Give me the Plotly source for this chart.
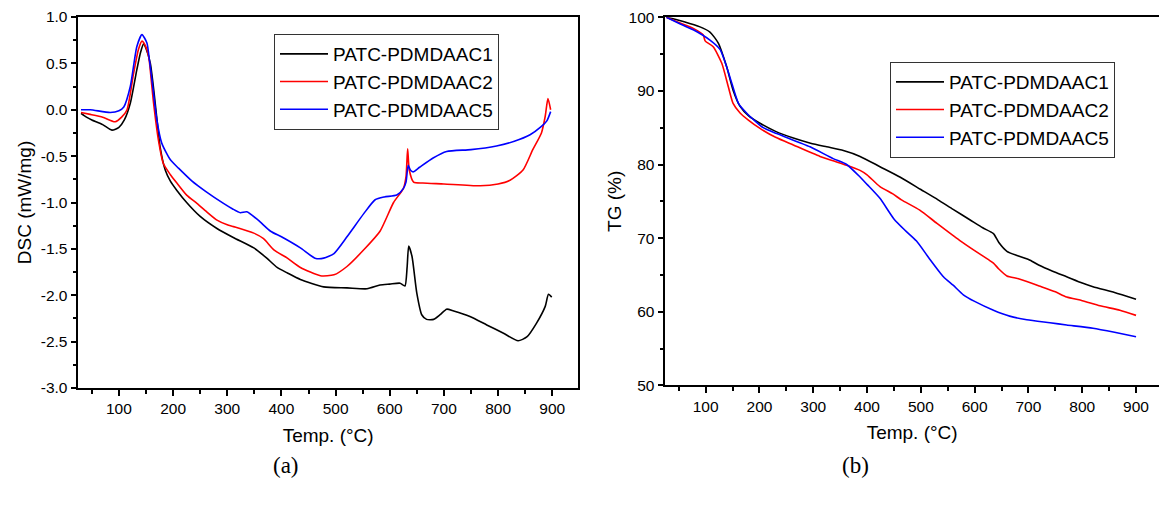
import plotly.graph_objects as go

# ---------------- DSC data (panel a) ----------------
dsc1_t = [30, 40, 50, 70, 87, 100, 110, 121, 133, 140, 145.5, 150, 158, 163, 167, 172, 176, 185.5, 195,
          207, 225, 250, 281, 312, 349, 373, 392, 411, 435, 478, 521, 558, 582, 600, 619, 628, 632,
          635, 641, 650, 659, 668, 681, 693, 705, 718, 748, 779, 810, 837, 853, 871, 887, 893, 899]
dsc1_v = [-0.04, -0.08, -0.11, -0.16, -0.22, -0.19, -0.11, 0.07, 0.43, 0.62, 0.71, 0.66, 0.50, 0.28,
          0.07, -0.20, -0.40, -0.65, -0.77, -0.87, -1.00, -1.15, -1.28, -1.38, -1.49, -1.60,
          -1.70, -1.76, -1.83, -1.91, -1.92, -1.93, -1.89, -1.88, -1.87, -1.90, -1.70, -1.47, -1.58, -1.98,
          -2.21, -2.26, -2.26, -2.21, -2.15, -2.17, -2.23, -2.32, -2.41, -2.49, -2.45, -2.30, -2.12, -1.99, -2.02]

dsc2_t = [30, 47, 70, 93, 105, 115, 127, 136, 142.5, 148, 155, 160, 164, 173, 182, 195, 207, 225, 244,
          262, 281, 300, 312, 349, 367, 386, 411, 435, 472, 497, 521, 552, 582, 607, 625, 630, 633, 636,
          644, 661, 700, 767, 800, 822, 846, 864, 880, 887, 892, 897]
dsc2_v = [-0.03, -0.05, -0.08, -0.13, -0.08, 0.00, 0.39, 0.65, 0.74, 0.70, 0.57, 0.30, 0.07, -0.33,
          -0.58, -0.70, -0.79, -0.92, -1.01, -1.10, -1.19, -1.24, -1.26, -1.33, -1.39, -1.51, -1.60, -1.70,
          -1.79, -1.78, -1.69, -1.51, -1.31, -1.00, -0.85, -0.72, -0.42, -0.65, -0.78, -0.79, -0.80, -0.82,
          -0.80, -0.76, -0.65, -0.43, -0.25, -0.07, 0.12, 0.00]

dsc5_t = [30, 47, 84, 100, 109, 121, 133, 142.5, 151.7, 156, 161, 170, 179, 195, 210, 235, 260, 293, 310,
          324, 336, 357, 380, 400, 435, 462, 478, 497, 521, 552, 573, 590, 613, 625, 630, 634, 638, 643,
          655, 680, 705, 750, 797, 830, 859, 880, 890, 897]
dsc5_v = [0.00, 0.00, -0.03, -0.01, 0.03, 0.25, 0.68, 0.81, 0.72, 0.55, 0.32, -0.11, -0.36, -0.54, -0.63,
          -0.77, -0.88, -1.01, -1.07, -1.11, -1.10, -1.19, -1.31, -1.37, -1.49, -1.60, -1.60, -1.55, -1.37,
          -1.12, -0.97, -0.94, -0.92, -0.85, -0.78, -0.60, -0.65, -0.67, -0.62, -0.52, -0.45, -0.43, -0.39,
          -0.34, -0.27, -0.18, -0.12, -0.02]

# ---------------- TG data (panel b) ----------------
tg1_t = [27, 34, 60, 89.5, 108, 123.5, 139, 151, 164, 180, 201, 230, 263, 295, 325, 356, 387, 424, 461,
         500, 532, 560, 591, 615, 635, 645, 660, 680, 703, 720, 745, 771, 800, 820, 860, 900]
tg1_v = [100, 99.9, 99.4, 98.7, 98.0, 96.5, 93.3, 90.1, 87.9, 86.6, 85.6, 84.5, 83.6, 82.9, 82.4, 81.9,
         81.1, 79.7, 78.3, 76.6, 75.2, 73.9, 72.5, 71.4, 70.6, 69.4, 68.2, 67.6, 67.0, 66.3, 65.5, 64.75,
         63.9, 63.4, 62.6, 61.7]

tg2_t = [27, 50, 77, 95.6, 99, 114, 130, 142, 151, 164, 180, 201, 230, 263, 312.5, 337, 362, 387, 400,
         424, 448, 464, 498, 530, 572, 600, 625, 635, 645, 660, 680, 697, 720, 750, 771, 800, 833, 870, 900]
tg2_v = [100, 99.3, 98.5, 97.6, 96.8, 96.0, 93.75, 90.6, 88.3, 87.0, 86.0, 84.9, 83.7, 82.65, 81.1, 80.5,
         79.9, 79.2, 78.6, 77.0, 76.0, 75.2, 73.8, 72.0, 69.7, 68.3, 67.1, 66.6, 65.8, 64.85, 64.5, 64.1,
         63.5, 62.7, 62.0, 61.5, 60.8, 60.2, 59.5]

tg5_t = [27, 50, 77, 108, 127, 145, 161, 176, 207, 232, 294, 337, 362, 387, 400, 424, 450, 470, 492, 515,
         542, 560, 579, 600, 635, 665, 697, 740, 771, 820, 860, 900]
tg5_v = [100, 99.2, 98.3, 96.9, 95.6, 91.9, 88.3, 87.0, 85.0, 84.2, 82.4, 80.8, 80.0, 78.3, 77.3, 75.4,
         72.6, 71.1, 69.6, 67.3, 64.75, 63.6, 62.3, 61.4, 60.2, 59.4, 58.9, 58.5, 58.2, 57.75, 57.2, 56.6]

names = ["PATC-PDMDAAC1", "PATC-PDMDAAC2", "PATC-PDMDAAC5"]
colors = ["#000000", "#ff0000", "#0000ff"]

dsc_ticks = [1.0, 0.5, 0.0, -0.5, -1.0, -1.5, -2.0, -2.5, -3.0]
dsc_ticktext = ["1.0", "0.5", "0.0", "-0.5", "-1.0", "-1.5", "-2.0", "-2.5", "-3.0"]

W, H = 1159, 506
FONT = "Liberation Sans, Arial, sans-serif"

fig = go.Figure()
for t, v, n, c in zip([dsc1_t, dsc2_t, dsc5_t], [dsc1_v, dsc2_v, dsc5_v], names, colors):
    fig.add_trace(go.Scatter(x=t, y=v, name=n, mode="lines",
                             line=dict(color=c, width=1.6, shape="spline", smoothing=0.6),
                             xaxis="x", yaxis="y", legend="legend"))
for t, v, n, c in zip([tg1_t, tg2_t, tg5_t], [tg1_v, tg2_v, tg5_v], names, colors):
    fig.add_trace(go.Scatter(x=t, y=v, name=n, mode="lines",
                             line=dict(color=c, width=1.6, shape="spline", smoothing=0.6),
                             xaxis="x2", yaxis="y2", legend="legend2"))

axis_common = dict(showline=True, linecolor="black", linewidth=1.5, mirror=True,
                   ticks="outside", ticklen=6, tickwidth=1.5, tickcolor="black",
                   showgrid=False, zeroline=False, automargin=False,
                   tickfont=dict(family=FONT, size=15.5, color="black"))

xminor = dict(ticks="outside", ticklen=4, tickwidth=1.5, tickcolor="black", dtick=50, tick0=0, showgrid=False)

fig.update_layout(
    width=W, height=H,
    margin=dict(l=0, r=0, t=0, b=0),
    paper_bgcolor="white", plot_bgcolor="white",
    showlegend=True,
    xaxis=dict(domain=[78.3 / W, 578 / W], range=[25, 947.5], dtick=100, tick0=0,
               title=dict(text="Temp. (°C)", font=dict(family=FONT, size=19, color="black"), standoff=12),
               minor=xminor, anchor="y", **axis_common),
    yaxis=dict(domain=[1 - 388 / H, 1 - 17 / H], range=[-3, 1], tickvals=dsc_ticks, ticktext=dsc_ticktext,
               title=dict(text="DSC (mW/mg)", font=dict(family=FONT, size=19, color="black"), standoff=4),
               minor=dict(ticks="outside", ticklen=4, tickwidth=1.5, tickcolor="black", dtick=0.25, tick0=0,
                          showgrid=False),
               anchor="x", **axis_common),
    xaxis2=dict(domain=[665.3 / W, 1.0], range=[25, 942.7], dtick=100, tick0=0,
                title=dict(text="Temp. (°C)", font=dict(family=FONT, size=19, color="black"), standoff=12),
                minor=xminor, anchor="y2", **axis_common),
    yaxis2=dict(domain=[1 - 385.3 / H, 1 - 17.3 / H], range=[50, 100], dtick=10, tick0=0,
                title=dict(text="TG (%)", font=dict(family=FONT, size=19, color="black"), standoff=2),
                minor=dict(ticks="outside", ticklen=4, tickwidth=1.5, tickcolor="black", dtick=5, tick0=0,
                           showgrid=False),
                anchor="x2", **axis_common),
    legend=dict(x=274 / W, y=1 - 34 / H, xanchor="left", yanchor="top", bgcolor="white",
                bordercolor="#333333", borderwidth=1, itemwidth=48, tracegroupgap=0,
                font=dict(family=FONT, size=19, color="black")),
    legend2=dict(x=890 / W, y=1 - 62 / H, xanchor="left", yanchor="top", bgcolor="white",
                 bordercolor="#333333", borderwidth=1, itemwidth=48, tracegroupgap=0,
                 font=dict(family=FONT, size=19, color="black")),
    annotations=[
        dict(text="(a)", x=286 / W, y=1 - 465 / H, xref="paper", yref="paper", showarrow=False,
             xanchor="center", yanchor="middle",
             font=dict(family="Liberation Serif, DejaVu Serif, serif", size=23, color="black")),
        dict(text="(b)", x=855 / W, y=1 - 465 / H, xref="paper", yref="paper", showarrow=False,
             xanchor="center", yanchor="middle",
             font=dict(family="Liberation Serif, DejaVu Serif, serif", size=23, color="black")),
    ],
)

fig.write_html("out.html")
